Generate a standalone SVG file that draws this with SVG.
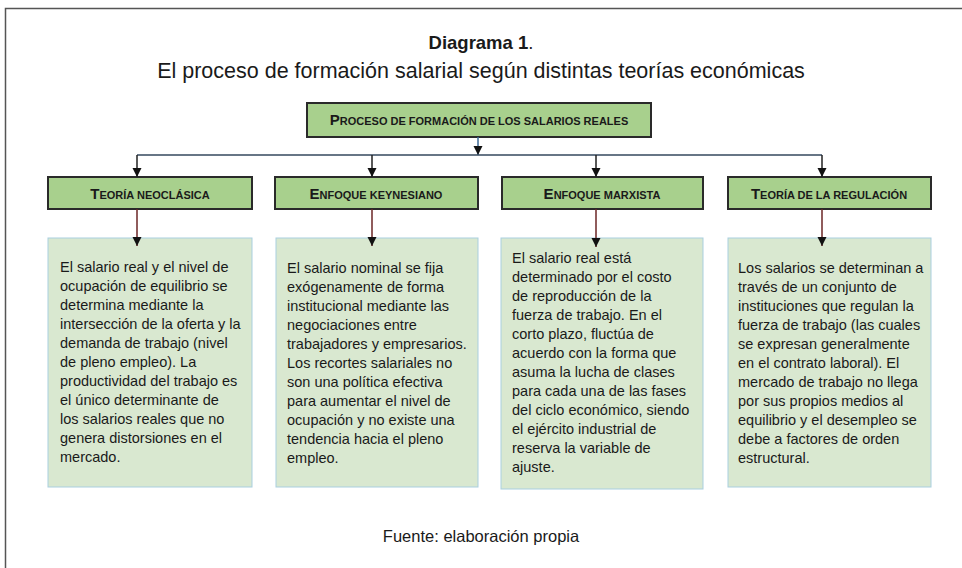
<svg xmlns="http://www.w3.org/2000/svg" width="962" height="568" viewBox="0 0 962 568">
<style>
.t{font-family:"Liberation Sans",Arial,sans-serif;fill:#1a1a1a}
.body{font-size:14.5px}
.hd{font-weight:bold;font-size:11px}
.big{font-size:15px}
.head rect{fill:#a8d08d;stroke:#2a2a2a;stroke-width:2}
.card rect{fill:#d9e8d0;stroke:#a9cfe0;stroke-width:1}
.c{fill:none;stroke-width:1.5}
</style>
<defs>
<marker id="ah" markerUnits="userSpaceOnUse" markerWidth="10" markerHeight="10" refX="9" refY="4.5" orient="auto">
<path d="M0,0 L9,4.5 L0,9 z" fill="#111"/>
</marker>
</defs>
<path d="M5.5,568 V8.5 H962" fill="none" stroke="#555" stroke-width="1.5"/>
<g id="title">
<text class="t" x="481" y="49" text-anchor="middle" font-size="18.5"><tspan font-weight="bold">Diagrama 1</tspan>.</text>
<text class="t" x="481" y="78" text-anchor="middle" font-size="21.5">El proceso de formación salarial según distintas teorías económicas</text>
</g>
<g id="root" class="head">
<rect x="307" y="103" width="344" height="34"/>
<text class="t hd" x="479" y="125" text-anchor="middle"><tspan class="big">P</tspan>ROCESO DE FORMACIÓN DE LOS SALARIOS REALES</text>
</g>
<g id="h1" class="head">
<rect x="48" y="177" width="204" height="32"/>
<text class="t hd" x="150" y="199" text-anchor="middle"><tspan class="big">T</tspan>EORÍA NEOCLÁSICA</text>
</g>
<g id="h2" class="head">
<rect x="275" y="177" width="203" height="32"/>
<text class="t hd" x="376" y="199" text-anchor="middle"><tspan class="big">E</tspan>NFOQUE KEYNESIANO</text>
</g>
<g id="h3" class="head">
<rect x="502" y="177" width="201" height="32"/>
<text class="t hd" x="602" y="199" text-anchor="middle"><tspan class="big">E</tspan>NFOQUE MARXISTA</text>
</g>
<g id="h4" class="head">
<rect x="728" y="177" width="203" height="32"/>
<text class="t hd" x="829" y="199" text-anchor="middle"><tspan class="big">T</tspan>EORÍA DE LA REGULACIÓN</text>
</g>
<g id="b1" class="card">
<rect x="48" y="238" width="204" height="249"/>
<text class="t body">
<tspan x="60" y="272">El salario real y el nivel de</tspan>
<tspan x="60" y="291">ocupación de equilibrio se</tspan>
<tspan x="60" y="310">determina mediante la</tspan>
<tspan x="60" y="329">intersección de la oferta y la</tspan>
<tspan x="60" y="348">demanda de trabajo (nivel</tspan>
<tspan x="60" y="367">de pleno empleo). La</tspan>
<tspan x="60" y="386">productividad del trabajo es</tspan>
<tspan x="60" y="405">el único determinante de</tspan>
<tspan x="60" y="424">los salarios reales que no</tspan>
<tspan x="60" y="443">genera distorsiones en el</tspan>
<tspan x="60" y="462">mercado.</tspan>
</text>
</g>
<g id="b2" class="card">
<rect x="276" y="238" width="202" height="249"/>
<text class="t body">
<tspan x="287" y="273">El salario nominal se fija</tspan>
<tspan x="287" y="292">exógenamente de forma</tspan>
<tspan x="287" y="311">institucional mediante las</tspan>
<tspan x="287" y="330">negociaciones entre</tspan>
<tspan x="287" y="349">trabajadores y empresarios.</tspan>
<tspan x="287" y="368">Los recortes salariales no</tspan>
<tspan x="287" y="387">son una política efectiva</tspan>
<tspan x="287" y="406">para aumentar el nivel de</tspan>
<tspan x="287" y="425">ocupación y no existe una</tspan>
<tspan x="287" y="444">tendencia hacia el pleno</tspan>
<tspan x="287" y="463">empleo.</tspan>
</text>
</g>
<g id="b3" class="card">
<rect x="501" y="238" width="202" height="251"/>
<text class="t body">
<tspan x="512" y="263">El salario real está</tspan>
<tspan x="512" y="282">determinado por el costo</tspan>
<tspan x="512" y="301">de reproducción de la</tspan>
<tspan x="512" y="320">fuerza de trabajo. En el</tspan>
<tspan x="512" y="339">corto plazo, fluctúa de</tspan>
<tspan x="512" y="358">acuerdo con la forma que</tspan>
<tspan x="512" y="377">asuma la lucha de clases</tspan>
<tspan x="512" y="396">para cada una de las fases</tspan>
<tspan x="512" y="415">del ciclo económico, siendo</tspan>
<tspan x="512" y="434">el ejército industrial de</tspan>
<tspan x="512" y="453">reserva la variable de</tspan>
<tspan x="512" y="472">ajuste.</tspan>
</text>
</g>
<g id="b4" class="card">
<rect x="728" y="238" width="203" height="249"/>
<text class="t body">
<tspan x="738" y="273">Los salarios se determinan a</tspan>
<tspan x="738" y="292">través de un conjunto de</tspan>
<tspan x="738" y="311">instituciones que regulan la</tspan>
<tspan x="738" y="330">fuerza de trabajo (las cuales</tspan>
<tspan x="738" y="349">se expresan generalmente</tspan>
<tspan x="738" y="368">en el contrato laboral). El</tspan>
<tspan x="738" y="387">mercado de trabajo no llega</tspan>
<tspan x="738" y="406">por sus propios medios al</tspan>
<tspan x="738" y="425">equilibrio y el desempleo se</tspan>
<tspan x="738" y="444">debe a factores de orden</tspan>
<tspan x="738" y="463">estructural.</tspan>
</text>
</g>
<g id="connectors">
<line class="c" x1="478" y1="137" x2="478" y2="155" stroke="#3d6a96" marker-end="url(#ah)"/>
<line class="c" x1="137" y1="155" x2="822" y2="155" stroke="#34495e"/>
<line class="c" x1="137" y1="155" x2="137" y2="177" stroke="#222" marker-end="url(#ah)"/>
<line class="c" x1="372" y1="155" x2="372" y2="177" stroke="#222" marker-end="url(#ah)"/>
<line class="c" x1="596" y1="155" x2="596" y2="177" stroke="#222" marker-end="url(#ah)"/>
<line class="c" x1="822" y1="155" x2="822" y2="177" stroke="#222" marker-end="url(#ah)"/>
<line class="c" x1="137" y1="209" x2="137" y2="246" stroke="#6b2626" marker-end="url(#ah)"/>
<line class="c" x1="372" y1="209" x2="372" y2="246" stroke="#6b2626" marker-end="url(#ah)"/>
<line class="c" x1="596" y1="209" x2="596" y2="247" stroke="#6b2626" marker-end="url(#ah)"/>
<line class="c" x1="822" y1="209" x2="822" y2="246" stroke="#6b2626" marker-end="url(#ah)"/>
</g>
<g id="source">
<text class="t" x="481" y="542" text-anchor="middle" font-size="16.5">Fuente: elaboración propia</text>
</g>
</svg>
